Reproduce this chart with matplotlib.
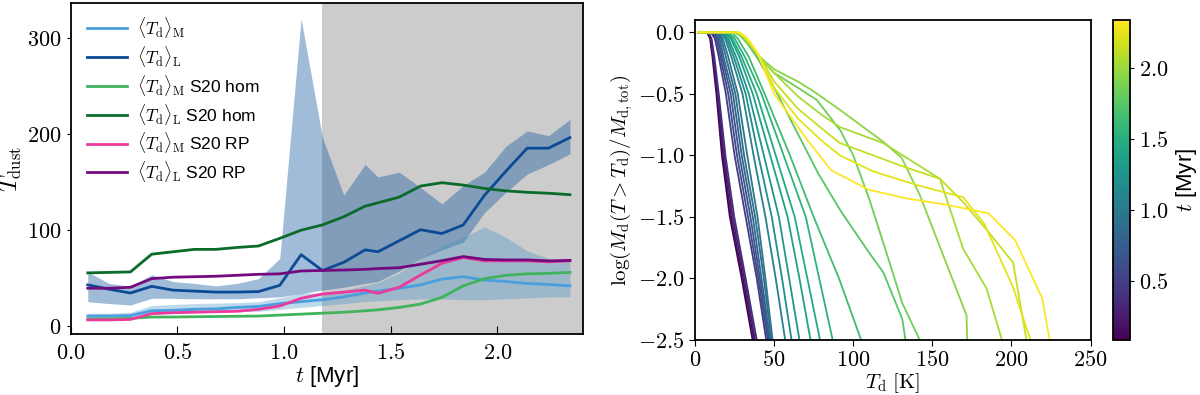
import numpy as np
import matplotlib
matplotlib.use("Agg")
import matplotlib.pyplot as plt
from matplotlib.ticker import FuncFormatter, FixedLocator
from matplotlib.colors import Normalize
from matplotlib.cm import ScalarMappable

plt.rcParams["mathtext.fontset"] = "cm"
plt.rcParams["font.family"] = ["Liberation Sans", "DejaVu Sans"]
plt.rcParams["axes.linewidth"] = 1.3

# snapshot times [Myr]
t = [0.08, 0.18, 0.28, 0.38, 0.48, 0.58, 0.68, 0.78, 0.88, 0.98, 1.08, 1.18,
     1.28, 1.38, 1.44, 1.54, 1.64, 1.74, 1.84, 1.94, 2.04, 2.14, 2.24, 2.34]

# left panel: mean dust temperatures
td_L = [42.5, 38, 34, 41, 37, 36, 35, 35, 35.5, 42, 74, 57.5,
        66, 79, 77, 88.5, 100, 96, 105, 136, 161, 185, 185, 196]
td_L_hi = [56, 44, 41, 53, 46, 44, 41.5, 44, 49, 70, 320, 196,
           136, 168, 155, 160, 144, 127, 146, 160, 187, 203, 198, 215]
td_L_lo = [25, 23, 21.5, 28.5, 28.5, 28, 28, 28, 29, 30, 33.5, 37,
           40, 44, 46, 57, 70, 79, 87, 118, 139, 158, 168, 179]
td_M = [10, 10, 10.5, 15.5, 16, 17, 17.5, 19, 20, 23, 25, 27,
        30, 34, 36, 39, 42.5, 48.5, 51, 47.5, 46, 44, 43, 41.5]
td_M_hi = [13, 13, 14, 21, 22, 23, 23.5, 24, 25, 29, 34, 34,
           37, 42, 45, 55, 70, 83, 92, 103, 92, 78, 70, 66]
td_M_lo = [7, 7, 7.5, 12, 13, 13.5, 14, 14.5, 15, 17, 19, 21,
           23, 25, 26, 27, 28, 28, 27, 27, 28, 29, 30, 30]
hom_M = [7, 7, 7.5, 9, 9, 9.3, 9.5, 9.8, 10, 11, 12, 13,
         14, 15.5, 16.5, 19, 22.5, 29.5, 41.5, 49, 52.5, 54, 54.5, 55.5]
hom_L = [55, 55.5, 56, 74.5, 77, 79.5, 79.5, 81.5, 83, 91, 99.5, 105,
         113.5, 124.5, 128, 134, 145.5, 149, 146.5, 143, 140.5, 139, 138, 136.5]
rp_M = [6, 6, 6.5, 12.5, 13.5, 14, 14.5, 15, 17, 20.5, 28.5, 33,
        35, 37, 33.7, 40, 52.8, 65, 71, 67.5, 67.5, 67.5, 66.5, 67.5]
rp_L = [39, 39, 40, 49, 50.5, 51, 51.5, 52.5, 53.5, 54, 57, 57.5,
        58, 58.7, 59.5, 60.4, 64, 67.7, 72, 69, 68.5, 68.5, 67.5, 68]
t_shade = 1.18

# right panel: cumulative dust mass fraction above T_d, one curve per snapshot
early_v = [0, 0, -0.05, -0.2, -0.5, -1.0, -1.5, -2.0, -2.5]
cum_T = [
    [2, 7.5, 9.5, 11, 13.5, 17, 22, 29.5, 36.4],
    [2, 7.8, 9.8, 11.4, 14, 17.7, 22.8, 30.3, 37.2],
    [2, 8.1, 10.1, 11.8, 14.5, 18.4, 23.8, 31.2, 38],
    [2, 8.4, 10.4, 12.2, 15, 19.2, 24.8, 32, 39],
    [2, 10, 12.5, 15, 19.5, 25, 32, 39, 45],
    [2, 11, 13.5, 16, 21, 26.5, 33.5, 40, 46],
    [2, 12, 14.5, 17, 22.5, 28, 35, 41, 46.8],
    [2, 13, 15.5, 18, 24, 29.5, 36.5, 42, 47.5],
    [2, 14, 16.5, 19.5, 25.5, 31, 38, 43.5, 48.2],
    [2, 15, 17.5, 21, 27, 33, 39.5, 44.5, 49],
    [2, 16, 19, 23, 30, 37, 44.5, 51, 57],
    [2, 17, 20, 24.5, 32, 40, 48.5, 55, 61],
    [2, 18, 21, 26, 34, 43.5, 53, 59.5, 66],
    [2, 19, 22.5, 28, 36.5, 47.5, 58.5, 66, 73],
    [2, 20, 23.5, 29.5, 39, 51, 63, 71, 79],
    [2, 21, 25, 31.5, 42, 56, 70, 78.5, 87],
    [2, 23, 27, 34, 44, 60, 75, 91, 105],
    [2, 25, 29, 33, 40, 50, 62, 78, 92, 110, 119, 131, 133],
    [2, 25, 29, 33, 40, 50, 65, 77, 92, 100, 110, 120, 131, 142],
    [2, 26, 30, 34, 40, 50, 65, 75, 91.6, 119, 130.6, 142, 171.6, 172],
    [2, 26, 30, 34, 40, 50, 65, 80, 91.6, 119, 154.8, 169.5, 184.2, 194],
    [2, 27, 31, 35, 40, 50, 65, 80, 91.6, 131.6, 154.8, 169.5, 185.3, 201, 209.5],
    [2, 27, 31, 35, 40, 50, 65, 80, 91.6, 112.6, 140, 169.5, 183, 201, 212],
    [2, 28, 31.5, 35, 40, 50, 71, 86, 110, 134, 158.6, 185.4, 202.4, 219.4, 224.2],
]
cum_v = [early_v] * 17 + [
    [0, 0, -0.03, -0.09, -0.22, -0.45, -0.75, -1.15, -1.45, -1.79, -1.95, -2.33, -2.5],
    [0, 0, -0.03, -0.09, -0.2, -0.33, -0.45, -0.55, -0.8, -1.0, -1.35, -1.75, -2.2, -2.5],
    [0, 0, -0.03, -0.09, -0.19, -0.3, -0.4, -0.48, -0.63, -0.89, -1.02, -1.32, -2.3, -2.5],
    [0, 0, -0.03, -0.09, -0.19, -0.33, -0.52, -0.67, -0.77, -0.9, -1.19, -1.76, -2.08, -2.5],
    [0, 0, -0.03, -0.09, -0.18, -0.4, -0.62, -0.78, -0.9, -1.09, -1.19, -1.38, -1.62, -1.87, -2.5],
    [0, 0, -0.03, -0.09, -0.18, -0.45, -0.7, -0.88, -1.0, -1.13, -1.24, -1.34, -1.56, -2.07, -2.5],
    [0, 0, -0.03, -0.08, -0.18, -0.5, -0.875, -1.12, -1.28, -1.35, -1.40, -1.47, -1.69, -2.16, -2.5],
]


def math_fmt(fmt):
    return FuncFormatter(lambda v, p: "$" + format(v, fmt) + "$")


fig = plt.figure(figsize=(12, 3.95), dpi=100)
ax1 = fig.add_axes([0.0589, 0.1537, 0.4267, 0.838])
ax2 = fig.add_axes([0.5792, 0.1392, 0.3296, 0.8101])
cax = fig.add_axes([0.9273, 0.1392, 0.0144, 0.8101])

# --- left: mean temperatures vs time
ax1.axvspan(t_shade, 2.4, color="#cccccc", lw=0, zorder=0)
ax1.fill_between(t, td_L_lo, td_L_hi, color="#08519c", alpha=0.38, lw=0, zorder=1)
ax1.fill_between(t, td_M_lo, td_M_hi, color="#4292c6", alpha=0.35, lw=0, zorder=1)
lab_M = r"$\langle T_{\rm d}\rangle_{\rm M}$"
lab_L = r"$\langle T_{\rm d}\rangle_{\rm L}$"
ax1.plot(t, td_M, color="#4a9ede", lw=2, label=lab_M)
ax1.plot(t, td_L, color="#0b4a94", lw=2, label=lab_L)
ax1.plot(t, hom_M, color="#41b35d", lw=2, label=lab_M + " S20 hom")
ax1.plot(t, hom_L, color="#0a6b2a", lw=2, label=lab_L + " S20 hom")
ax1.plot(t, rp_M, color="#ec3a9c", lw=2, label=lab_M + " S20 RP")
ax1.plot(t, rp_L, color="#730a7e", lw=2, label=lab_L + " S20 RP")
ax1.set_xlim(0, 2.4)
ax1.set_ylim(-9, 336)
ax1.xaxis.set_major_locator(FixedLocator([0, 0.5, 1.0, 1.5, 2.0]))
ax1.yaxis.set_major_locator(FixedLocator([0, 100, 200, 300]))
ax1.xaxis.set_major_formatter(math_fmt(".1f"))
ax1.yaxis.set_major_formatter(math_fmt(".0f"))
ax1.tick_params(axis="x", direction="in", length=6, labelsize=16, pad=6)
ax1.tick_params(axis="y", direction="out", length=3, labelsize=16)
ax1.set_xlabel(r"$t$ [Myr]", fontsize=16, labelpad=0)
ax1.set_ylabel(r"$T_{\rm dust}$", fontsize=17, labelpad=2)
ax1.legend(loc="upper left", bbox_to_anchor=(0.018, 0.985), frameon=False,
           fontsize=12.5, handlelength=2.3, handletextpad=0.6,
           labelspacing=0.22, borderaxespad=0)

# --- right: cumulative mass fraction curves coloured by time
norm = Normalize(vmin=min(t), vmax=max(t))
cmap = plt.cm.viridis
for ti, xs, ys in zip(t, cum_T, cum_v):
    ax2.plot(xs, ys, color=cmap(norm(ti)), lw=1.3)
ax2.set_xlim(0, 250)
ax2.set_ylim(-2.5, 0.1)
ax2.xaxis.set_major_locator(FixedLocator([0, 50, 100, 150, 200, 250]))
ax2.yaxis.set_major_locator(FixedLocator([0, -0.5, -1.0, -1.5, -2.0, -2.5]))
ax2.xaxis.set_major_formatter(math_fmt(".0f"))
ax2.yaxis.set_major_formatter(math_fmt(".1f"))
ax2.tick_params(direction="out", length=4, labelsize=16)
ax2.set_xlabel(r"$T_{\rm d}\ [{\rm K}]$", fontsize=15, labelpad=0)
ax2.set_ylabel(r"$\log(M_{\rm d}(T>T_{\rm d})/M_{\rm d,tot})$", fontsize=15,
               labelpad=2)

sm = ScalarMappable(norm=norm, cmap=cmap)
cb = fig.colorbar(sm, cax=cax)
cb.set_ticks([0.5, 1.0, 1.5, 2.0])
cb.ax.yaxis.set_major_formatter(math_fmt(".1f"))
cb.ax.tick_params(labelsize=16, length=3)
cb.outline.set_linewidth(1.3)
cb.set_label(r"$t$ [Myr]", fontsize=16)

fig.savefig("out.png", dpi=100)
